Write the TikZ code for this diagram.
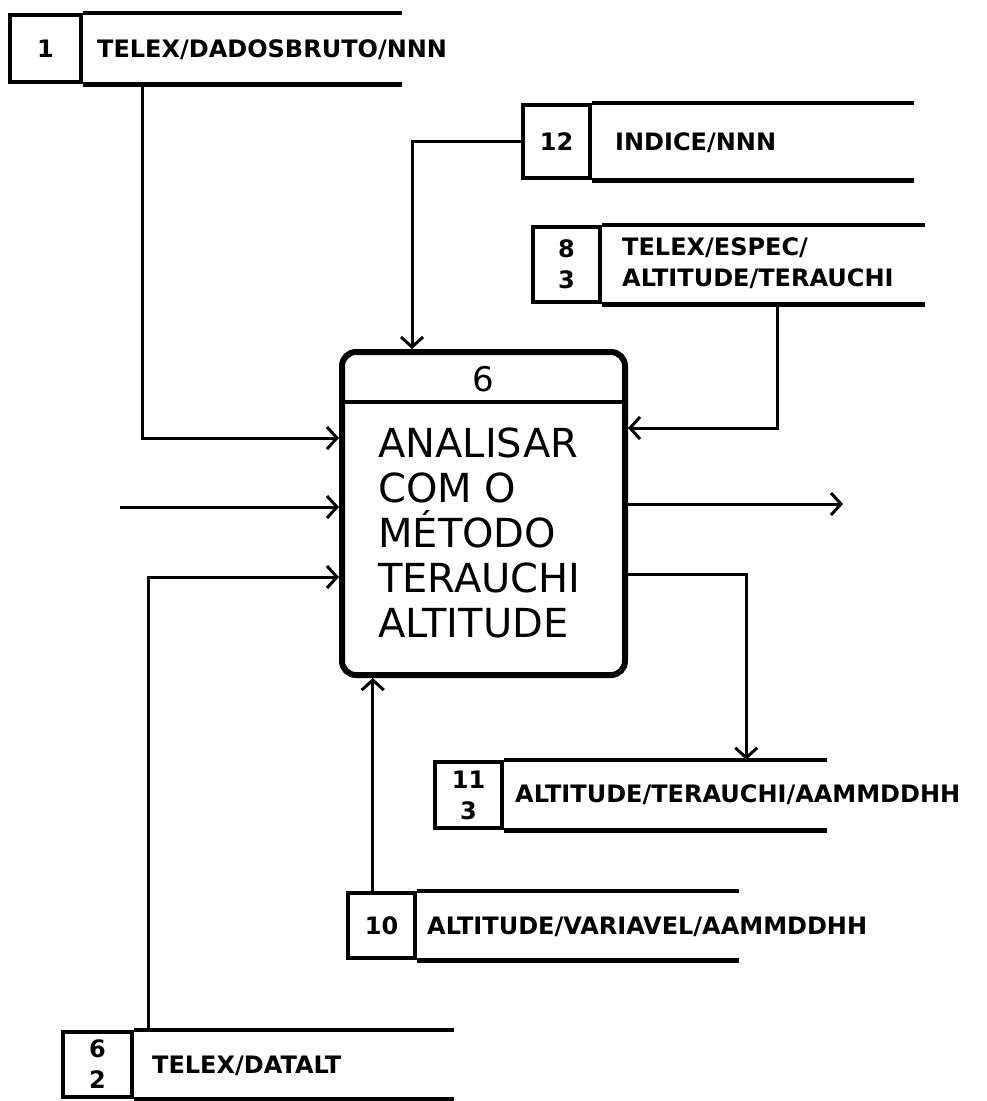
\documentclass[tikz,border=0pt]{standalone}
\usepackage{fontspec}
\setmainfont{DejaVu Sans}
\usetikzlibrary{calc, arrows.meta}

\begin{document}
\begin{tikzpicture}[x=1pt, y=-1pt,
  idbox/.style={draw, line width=4.5pt, inner sep=0pt, align=center,
              font=\fontsize{24}{31}\selectfont\bfseries},
  storetxt/.style={anchor=west, inner sep=0pt, align=left,
              font=\fontsize{24}{31}\selectfont\bfseries},
  storeline/.style={line width=4.5pt},
  procbox/.style={draw, line width=6pt, rounded corners=14pt,
              minimum width=283pt, minimum height=323pt, inner sep=0pt},
  flow/.style={line width=3pt, -{Straight Barb[length=10pt, width=22pt]}},
]
\useasboundingbox (0,0) rectangle (986,1101);

% data stores
\node[idbox, minimum width=71pt, minimum height=67pt] (s1id) at (45.5,48.5) {1};
\draw[storeline] (s1id.north east) -- ++(319,0);
\draw[storeline] (s1id.south east) -- ++(319,0);
\node[storetxt] (s1) at (97,50) {TELEX/DADOSBRUTO/NNN};

\node[idbox, minimum width=67pt, minimum height=73pt] (s12id) at (556.5,141.5) {12};
\draw[storeline] (s12id.north east) -- ++(322,0);
\draw[storeline] (s12id.south east) -- ++(322,0);
\node[storetxt] (s12) at (615,143) {INDICE/NNN};

\node[idbox, minimum width=67pt, minimum height=75pt] (s8id) at (566.5,264.5) {8\\3};
\draw[storeline] (s8id.north east) -- ++(323,0);
\draw[storeline] (s8id.south east) -- ++(323,0);
\node[storetxt] (s8) at (622,263) {TELEX/ESPEC/\\ALTITUDE/TERAUCHI};

\node[idbox, minimum width=67pt, minimum height=66pt] (s11id) at (468.5,795) {11\\3};
\draw[storeline] (s11id.north east) -- ++(323,0);
\draw[storeline] (s11id.south east) -- ++(323,0);
\node[storetxt] (s11) at (515,795) {ALTITUDE/TERAUCHI/AAMMDDHH};

\node[idbox, minimum width=67pt, minimum height=65pt] (s10id) at (381.5,925.5) {10};
\draw[storeline] (s10id.north east) -- ++(322,0);
\draw[storeline] (s10id.south east) -- ++(322,0);
\node[storetxt] (s10) at (427,927) {ALTITUDE/VARIAVEL/AAMMDDHH};

\node[idbox, minimum width=69pt, minimum height=65pt] (s6id) at (97.5,1064.5) {6\\2};
\draw[storeline] (s6id.north east) -- ++(320,0);
\draw[storeline] (s6id.south east) -- ++(320,0);
\node[storetxt] (s6) at (152,1066) {TELEX/DATALT};

% process
\node[procbox] (box) at (483.5,513.5) {};
\draw[line width=3.5pt] ([yshift=-53pt]box.north west) -- ([yshift=-53pt]box.north east);
\node[font=\fontsize{34}{40}\selectfont] (boxid) at (483.5,379) {6};
\node[anchor=west, align=left, inner sep=0pt, font=\fontsize{40}{45}\selectfont]
  (boxtxt) at (378,533) {ANALISAR\\COM O\\MÉTODO\\TERAUCHI\\ALTITUDE};

% flows
\coordinate (s1out) at ([xshift=59pt]s1id.south east);
\coordinate (s8out) at ([xshift=175pt]s8id.south east);
\coordinate (s10out) at ([xshift=27pt]s10id.north west);
\coordinate (s6out) at ([xshift=14pt]s6id.north east);
\coordinate (s11in) at ([xshift=242pt]s11id.north east);
\coordinate (inleft) at (120,507);
\coordinate (outright) at (843,504);

\draw[flow] (s1out) |- ([yshift=75.5pt]box.west);
\draw[flow] (inleft) -- (inleft -| box.west);
\draw[flow] (s6out) |- ([yshift=-63.5pt]box.west);
\draw[flow] (s12id.west) -| ([xshift=-71.5pt]box.north);
\draw[flow] (s8out) |- ([yshift=85.5pt]box.east);
\draw[flow] (s10out) -- (s10out |- box.south);
\draw[flow] (outright -| box.east) -- (outright);
\draw[flow] ([yshift=-60.5pt]box.east) -| (s11in);
\end{tikzpicture}
\end{document}
